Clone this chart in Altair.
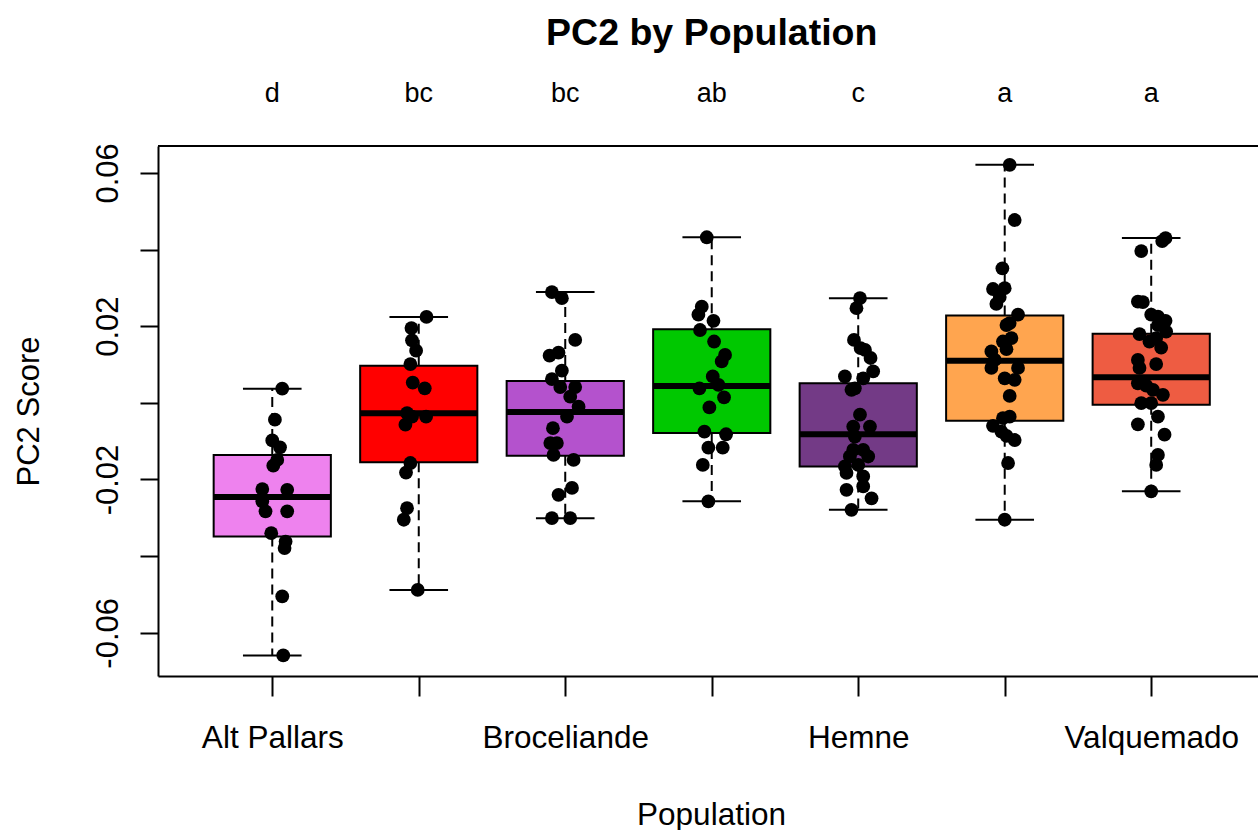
import json
import pandas as pd
import altair as alt

populations = ["Alt Pallars", "", "Broceliande", "", "Hemne", "", "Valquemado"]
letters = ["d", "bc", "bc", "ab", "c", "a", "a"]
box_colors = ["#EE82EE", "#FF0000", "#B452CD", "#00C800", "#733A86", "#FFA54F", "#EE5C42"]

# box statistics
q1 = [-0.0349, -0.0155, -0.0138, -0.0079, -0.0166, -0.0047, -0.0005]
median = [-0.0246, -0.0027, -0.0024, 0.0044, -0.0082, 0.0110, 0.0067]
q3 = [-0.0136, 0.0097, 0.0057, 0.0192, 0.0051, 0.0228, 0.0180]
whisker_lo = [-0.0659, -0.0488, -0.0301, -0.0257, -0.0279, -0.0305, -0.0231]
whisker_hi = [0.0037, 0.0224, 0.0289, 0.0432, 0.0273, 0.0621, 0.0430]

# individual PC2 scores and their horizontal jitter (in category units)
vals1 = [0.0037, -0.0044, -0.0098, -0.0116, -0.0149, -0.0164, -0.0225, -0.0227, -0.0257, -0.0283,
         -0.0283, -0.0340, -0.0362, -0.0379, -0.0505, -0.0659]
jit1 = [0.068, 0.018, 0.0, 0.053, 0.034, 0.007, -0.068, 0.102, -0.068, -0.046, 0.102, -0.007,
        0.091, 0.084, 0.068, 0.075]
vals2 = [0.0224, 0.0195, 0.0163, 0.0136, 0.0101, 0.0053, 0.0038, -0.0027, -0.0036, -0.0036,
         -0.0057, -0.0157, -0.0182, -0.0275, -0.0305, -0.0488]
jit2 = [0.053, -0.050, -0.046, -0.018, -0.057, -0.041, 0.041, -0.080, -0.046, 0.050, -0.091,
        -0.057, -0.087, -0.080, -0.102, -0.007]
vals3 = [0.0289, 0.0273, 0.0164, 0.0131, 0.0123, 0.0084, 0.0062, 0.0041, 0.0041, 0.0016, -0.0010,
         -0.0036, -0.0066, -0.0105, -0.0105, -0.0136, -0.0149, -0.0222, -0.0240, -0.0301, -0.0301]
jit3 = [-0.091, -0.023, 0.068, -0.046, -0.107, -0.023, -0.091, -0.034, 0.068, 0.034, 0.091, 0.012,
        -0.084, -0.102, -0.057, -0.080, 0.057, 0.046, -0.046, -0.091, 0.034]
vals4 = [0.0432, 0.0251, 0.0230, 0.0214, 0.0190, 0.0160, 0.0125, 0.0108, 0.0069, 0.0047, 0.0038,
         0.0014, -0.0012, -0.0075, -0.0082, -0.0117, -0.0117, -0.0162, -0.0257]
jit4 = [-0.034, -0.068, -0.091, 0.012, -0.080, 0.016, 0.091, 0.068, 0.007, 0.046, -0.084, 0.084,
        -0.016, -0.050, 0.098, -0.023, 0.075, -0.061, -0.023]
vals5 = [0.0273, 0.0247, 0.0164, 0.0143, 0.0138, 0.0117, 0.0082, 0.0069, 0.0064, 0.0038, 0.0034,
         -0.0031, -0.0062, -0.0062, -0.0088, -0.0123, -0.0123, -0.0140, -0.0140, -0.0162, -0.0166,
         -0.0183, -0.0192, -0.0218, -0.0227, -0.0249, -0.0279]
jit5 = [0.012, -0.012, -0.029, 0.016, 0.046, 0.084, 0.102, -0.091, 0.034, -0.023, -0.046, 0.012,
        -0.034, 0.080, -0.023, -0.034, 0.034, -0.057, 0.068, 0.0, -0.091, -0.080, 0.034, 0.034,
        -0.080, 0.091, -0.046]
vals6 = [0.0621, 0.0477, 0.0351, 0.0299, 0.0297, 0.0276, 0.0258, 0.0230, 0.0208, 0.0203, 0.0169,
         0.0160, 0.0140, 0.0134, 0.0112, 0.0091, 0.0091, 0.0064, 0.0060, 0.0018, -0.0036, -0.0040,
         -0.0060, -0.0075, -0.0086, -0.0097, -0.0157, -0.0305]
jit6 = [0.034, 0.068, -0.016, 0.0, -0.080, -0.034, -0.057, 0.091, 0.034, 0.012, 0.046, -0.012,
        0.012, -0.091, -0.068, 0.091, -0.091, 0.0, 0.068, 0.034, 0.034, -0.012, -0.080, -0.023,
        0.012, 0.068, 0.023, 0.0]
vals7 = [0.0430, 0.0422, 0.0396, 0.0264, 0.0263, 0.0230, 0.0225, 0.0214, 0.0203, 0.0186, 0.0179,
         0.0169, 0.0160, 0.0144, 0.0112, 0.0101, 0.0091, 0.0051, 0.0045, 0.0034, 0.0021, -0.0001,
         -0.0001, -0.0036, -0.0056, -0.0083, -0.0136, -0.0162, -0.0231]
jit7 = [0.098, 0.075, -0.068, -0.091, -0.057, 0.0, 0.046, 0.098, 0.046, 0.102, -0.080, 0.034,
        -0.012, 0.068, -0.091, 0.034, -0.080, -0.091, -0.034, 0.012, 0.080, -0.068, 0.0, 0.046,
        -0.091, 0.091, 0.046, 0.034, 0.0]

all_vals = [vals1, vals2, vals3, vals4, vals5, vals6, vals7]
all_jit = [jit1, jit2, jit3, jit4, jit5, jit6, jit7]

rows = []
for i, (vs, js) in enumerate(zip(all_vals, all_jit)):
    for v, j in zip(vs, js):
        rows.append({"pos": i + 1 + j, "pc2": v})
points = pd.DataFrame(rows)

pos = list(range(1, 8))
boxes = pd.DataFrame({
    "pos": pos,
    "left": [p - 0.4 for p in pos],
    "right": [p + 0.4 for p in pos],
    "capl": [p - 0.2 for p in pos],
    "capr": [p + 0.2 for p in pos],
    "q1": q1, "med": median, "q3": q3, "lo": whisker_lo, "hi": whisker_hi,
    "color": box_colors, "letter": letters,
})

FONT = "Liberation Sans"
W, H = 1100, 530
xscale = alt.Scale(domain=[0.22, 7.729], nice=False, zero=False)
yscale = alt.Scale(domain=[-0.07127, 0.06701], nice=False, zero=False)

xaxis = alt.Axis(
    values=pos,
    labelExpr=json.dumps(populations) + "[datum.value - 1]",
    grid=False, tickSize=20, tickWidth=2, tickColor="black",
    domainColor="black", domainWidth=2,
    labelFont=FONT, labelFontSize=31.5, labelColor="black",
    labelBaseline="alphabetic", labelPadding=51, labelFlush=False, labelOverlap=False,
    title="Population", titleFont=FONT, titleFontSize=31.5, titleFontWeight="normal",
    titleColor="black", titleX=553, titleY=148, titleBaseline="alphabetic", titleAlign="center",
)
yaxis = alt.Axis(
    values=[-0.06, -0.04, -0.02, 0.0, 0.02, 0.04, 0.06],
    labelExpr="(abs(round(datum.value*100)) % 4 == 2) ? ((datum.value < 0 ? '-' : '') + format(abs(datum.value), '.2f')) : ''",
    grid=False, tickSize=18, tickWidth=2, tickColor="black",
    domainColor="black", domainWidth=2,
    labelFont=FONT, labelFontSize=31, labelColor="black",
    labelAngle=270, labelAlign="center", labelBaseline="alphabetic", labelPadding=23,
    labelOverlap=False, labelFlush=False,
    title="PC2 Score", titleFont=FONT, titleFontSize=31, titleFontWeight="normal",
    titleColor="black", titleAngle=270, titleX=-120, titleY=H / 2,
    titleBaseline="alphabetic", titleAlign="center",
)


def X(f):
    return alt.X(f, type="quantitative", scale=xscale, axis=xaxis)


def Y(f):
    return alt.Y(f, type="quantitative", scale=yscale, axis=yaxis)


base = alt.Chart(boxes)

whisk_up = base.mark_rule(color="black", strokeWidth=2, strokeDash=[10, 6]).encode(
    x=X("pos"), y=Y("q3"), y2="hi")
whisk_dn = base.mark_rule(color="black", strokeWidth=2, strokeDash=[10, 6]).encode(
    x=X("pos"), y=Y("q1"), y2="lo")
cap_up = base.mark_rule(color="black", strokeWidth=2).encode(x=X("capl"), x2="capr", y=Y("hi"))
cap_dn = base.mark_rule(color="black", strokeWidth=2).encode(x=X("capl"), x2="capr", y=Y("lo"))
rects = base.mark_rect(stroke="black", strokeWidth=2).encode(
    x=X("left"), x2="right", y=Y("q1"), y2="q3",
    fill=alt.Color("color:N", scale=None))
meds = base.mark_rule(color="black", strokeWidth=6).encode(x=X("left"), x2="right", y=Y("med"))

dots = alt.Chart(points).mark_circle(size=190, color="black", opacity=1).encode(
    x=X("pos"), y=Y("pc2"))

letter_txt = base.mark_text(font=FONT, fontSize=27, baseline="alphabetic", align="center",
                            color="black").encode(
    x=X("pos"), y=alt.value(-44), text="letter:N")

title_df = pd.DataFrame({"t": ["PC2 by Population"], "pos": [4]})
title_txt = alt.Chart(title_df).mark_text(font=FONT, fontSize=37.5, fontWeight="bold",
                                          baseline="alphabetic", align="center",
                                          color="black").encode(
    x=X("pos"), y=alt.value(-101), text="t:N")

top_border = alt.Chart(title_df).mark_rule(color="black", strokeWidth=2).encode(
    x=alt.value(0), x2=alt.value(W), y=alt.value(0))

chart = alt.layer(
    whisk_up, whisk_dn, cap_up, cap_dn, rects, meds, dots, letter_txt, title_txt, top_border
).properties(
    width=W, height=H,
    padding={"left": 158, "top": 146, "right": 0, "bottom": 154},
    autosize=alt.AutoSizeParams(type="none"),
    background="white",
).configure_view(strokeWidth=0)

chart.save("out.html", embed_options={"renderer": "svg", "actions": False})
